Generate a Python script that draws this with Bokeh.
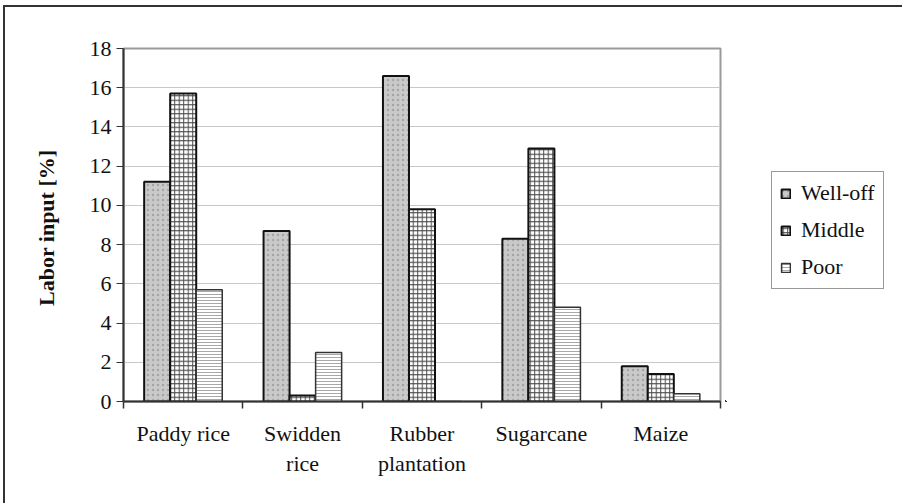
from bokeh.plotting import figure
from bokeh.layouts import row
from bokeh.models import (ColumnDataSource, Range1d, LinearAxis,
                          FixedTicker, Legend, LegendItem)
from bokeh.transform import dodge
from bokeh.embed import file_html
from bokeh.resources import INLINE

categories = ["Paddy rice", "Swidden\nrice", "Rubber\nplantation", "Sugarcane", "Maize"]
series = ["Well-off", "Middle", "Poor"]
well_off = [11.2, 8.7, 16.6, 8.3, 1.8]
middle = [15.7, 0.3, 9.8, 12.9, 1.4]
poor = [5.7, 2.5, 0.0, 4.8, 0.4]
y_ticks = [0, 2, 4, 6, 8, 10, 12, 14, 16, 18]

FONT = "Liberation Serif"

n = len(categories)
centers = [i + 0.5 for i in range(n)]
bounds = [i for i in range(n + 1)]
src = ColumnDataSource(dict(xc=centers, well_off=well_off, middle=middle, poor=poor))
cols = ["well_off", "middle", "poor"]

styles = [
    dict(fill_color="#c9c9c9", hatch_pattern="dot", hatch_color="#a5a5a5", hatch_scale=5,
         hatch_weight=1, line_color="#111111", line_width=2),
    dict(fill_color="#ffffff", hatch_pattern="cross", hatch_color="#4a4a4a", hatch_scale=4.5,
         hatch_weight=1, line_color="#111111", line_width=2),
    dict(fill_color="#ffffff", hatch_pattern="horizontal_line", hatch_color="#a8a8a8", hatch_scale=3,
         hatch_weight=1, line_color="#333333", line_width=1.5),
]

p = figure(x_range=Range1d(0, n), y_range=Range1d(0, 18),
           width=720, height=496,
           frame_width=597, frame_height=353,
           min_border_left=118, min_border_top=41, min_border_bottom=102, min_border_right=5,
           x_axis_location=None, output_backend="svg", toolbar_location=None)

p.outline_line_color = "#9a9a9a"
p.outline_line_width = 2
p.xgrid.grid_line_color = None
p.ygrid.grid_line_color = "#c8c8c8"
p.ygrid.grid_line_width = 1

ya = p.yaxis[0]
ya.ticker = FixedTicker(ticks=y_ticks)
ya.axis_line_color = "#333333"
ya.axis_line_width = 2
ya.major_tick_line_color = "#333333"
ya.major_tick_out = 7
ya.major_tick_in = 0
ya.minor_tick_line_color = None
ya.major_label_text_font = FONT
ya.major_label_text_font_size = "22px"
ya.major_label_text_color = "#111111"
ya.major_label_standoff = 5
ya.axis_label = "Labor input  [%]"
ya.axis_label_text_font = FONT
ya.axis_label_text_font_size = "22px"
ya.axis_label_text_font_style = "bold"
ya.axis_label_text_color = "#111111"
ya.axis_label_standoff = 28

# category labels at centers, tick marks at category boundaries (minor ticks)
cat_axis = LinearAxis(ticker=FixedTicker(ticks=centers, minor_ticks=bounds),
                      major_label_overrides={c: lab for c, lab in zip(centers, categories)},
                      axis_line_color="#333333", axis_line_width=2,
                      major_tick_line_color=None, major_tick_out=7, major_tick_in=0,
                      minor_tick_line_color="#333333", minor_tick_line_width=1.5,
                      minor_tick_out=7, minor_tick_in=0,
                      major_label_text_font=FONT, major_label_text_font_size="22px",
                      major_label_text_color="#111111", major_label_standoff=12)
p.add_layout(cat_axis, "below")

bw = 0.218
for col, off, st in zip(cols, [-bw, 0, bw], styles):
    p.vbar(x=dodge("xc", off), top=col, width=bw, source=src, **st)

# legend panel: a separate figure (its view ranges show none of the bars) so the
# legend can sit outside the plot frame
pl = figure(x_range=Range1d(100, 101), y_range=Range1d(100, 101), width=177, height=496,
            min_border=0, x_axis_location=None, y_axis_location=None,
            output_backend="svg", toolbar_location=None)
pl.grid.visible = False
pl.outline_line_color = None
leg_renderers = [pl.vbar(x=dodge("xc", off), top=col, width=bw, source=src, **st)
                 for col, off, st in zip(cols, [-bw, 0, bw], styles)]

legend = Legend(items=[LegendItem(label=s, renderers=[r]) for s, r in zip(series, leg_renderers)],
                location=(46, 112), margin=0, padding=8, spacing=11,
                glyph_width=11, glyph_height=11, label_standoff=10,
                label_text_font=FONT, label_text_font_size="22px", label_text_color="#111111",
                label_height=20,
                border_line_color="#333333", border_line_width=1.2)
pl.add_layout(legend, "center")

layout = row(p, pl, margin=(5, 0, 0, 3), spacing=0)
layout.styles = {"border-top": "2px solid #333333", "border-left": "2px solid #333333"}

open("out.html", "w").write(file_html(layout, INLINE))
